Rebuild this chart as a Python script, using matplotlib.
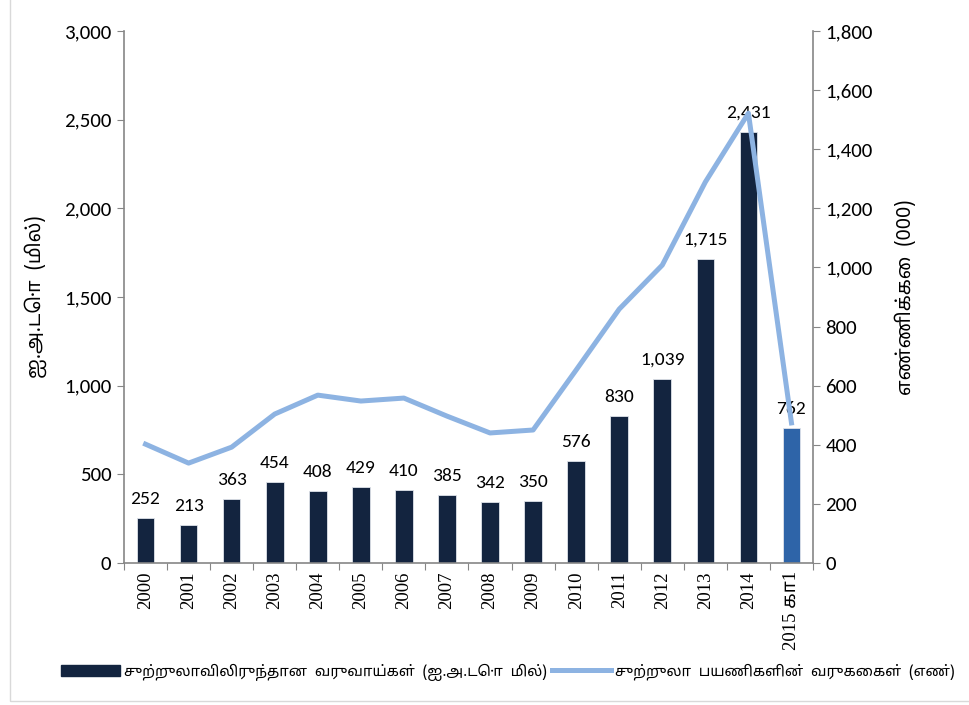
import matplotlib
matplotlib.use("Agg")
import numpy as np
import matplotlib.pyplot as plt
from matplotlib import font_manager
from matplotlib.lines import Line2D
from matplotlib.patches import Patch, Rectangle

# data
years = ["2000", "2001", "2002", "2003", "2004", "2005", "2006", "2007",
         "2008", "2009", "2010", "2011", "2012", "2013", "2014", "2015 கா1"]
earnings = [252, 213, 363, 454, 408, 429, 410, 385, 342, 350, 576, 830,
            1039, 1715, 2431, 762]
arrivals = [402, 338, 392, 504, 568, 548, 558, 497, 440, 450, 653, 859,
            1008, 1289, 1522, 474]

left_label = "ஐ.அ.டொ  (மில்)"
right_label = "எண்ணிக்கை  (000)"
bar_legend = "சுற்றுலாவிலிருந்தான  வருவாய்கள்  (ஐ.அ.டொ  மில்)"
line_legend = "சுற்றுலா  பயணிகளின்  வருகைகள்  (எண்)"

available = set(f.name for f in font_manager.fontManager.ttflist)


def pick(*fams):
    return [f for f in fams if f in available] + ["DejaVu Sans"]


num_font = pick("Carlito", "Lato", "Open Sans")
serif_font = pick("Liberation Serif", "DejaVu Serif")
tamil_font = pick("Noto Sans Tamil", "Lohit Tamil", "FreeSans")
plt.rcParams["font.family"] = tamil_font[:-1] + num_font

bar_dark = "#13243f"
bar_last = "#2e64a8"
line_col = "#8db3e2"
spine_col = "#868686"

fig = plt.figure(figsize=(9.69, 7.05), dpi=100)
ax = fig.add_axes([124 / 969, 1 - 563 / 705, (813 - 124) / 969, (563 - 31) / 705])
ax2 = ax.twinx()

x = np.arange(len(years))
colors = [bar_dark] * (len(years) - 1) + [bar_last]
ax.bar(x, earnings, width=0.41, color=colors, edgecolor="#dfe3ea", lw=0.6, zorder=2)
for xi, v in zip(x, earnings):
    ax.annotate(f"{v:,}", (xi, v), xytext=(0, 8), textcoords="offset points",
                ha="center", va="bottom", fontsize=14, family=num_font)

ax2.plot(x, arrivals, color=line_col, lw=3.6, zorder=3)

ax.set_xlim(-0.5, len(years) - 0.5)
ax.set_ylim(0, 3000)
ax2.set_ylim(0, 1800)
ax.set_yticks(np.arange(0, 3001, 500))
ax2.set_yticks(np.arange(0, 1801, 200))
ax.set_yticklabels([f"{v:,}" for v in range(0, 3001, 500)], family=num_font, fontsize=15)
ax2.set_yticklabels([f"{v:,}" for v in range(0, 1801, 200)], family=num_font, fontsize=15)

# category ticks at boundaries, labels at centres
ax.set_xticks(np.arange(-0.5, len(years), 1.0))
ax.set_xticklabels([])
ax.set_xticks(x, minor=True)
ax.set_xticklabels(years, minor=True, rotation=90, fontsize=13.5,
                   family=serif_font[:-1] + tamil_font)
ax.tick_params(axis="x", which="minor", length=0, pad=6)
ax.tick_params(axis="x", which="major", length=5, color=spine_col)
ax.tick_params(axis="y", length=5, color=spine_col, pad=4)
ax2.tick_params(axis="y", length=5, color=spine_col, pad=4)

for a in (ax, ax2):
    a.spines["top"].set_visible(False)
    for s in ("left", "right", "bottom"):
        a.spines[s].set_color(spine_col)
        a.spines[s].set_linewidth(1.2)
ax.spines["right"].set_visible(False)
ax2.spines["left"].set_visible(False)
ax2.spines["bottom"].set_visible(False)

ax.set_ylabel(left_label, fontsize=14, labelpad=12, family=tamil_font)
ax2.set_ylabel(right_label, fontsize=14, labelpad=16, family=tamil_font)

handles = [Patch(color=bar_dark), Line2D([], [], color=line_col, lw=3.6)]
fig.legend(handles, [bar_legend, line_legend], loc="center",
           bbox_to_anchor=(0.524, 1 - 672 / 705), ncol=2, frameon=False,
           handlelength=4.0, handleheight=0.8,
           handletextpad=0.25, columnspacing=0.3,
           prop={"family": tamil_font, "size": 10.7})

# light frame around the chart area
fig.add_artist(Rectangle((10 / 969, 0.006), 1.2, 1.2, transform=fig.transFigure,
                         fill=False, edgecolor="#d9d9d9", lw=1))

fig.savefig("out.png", dpi=100)
